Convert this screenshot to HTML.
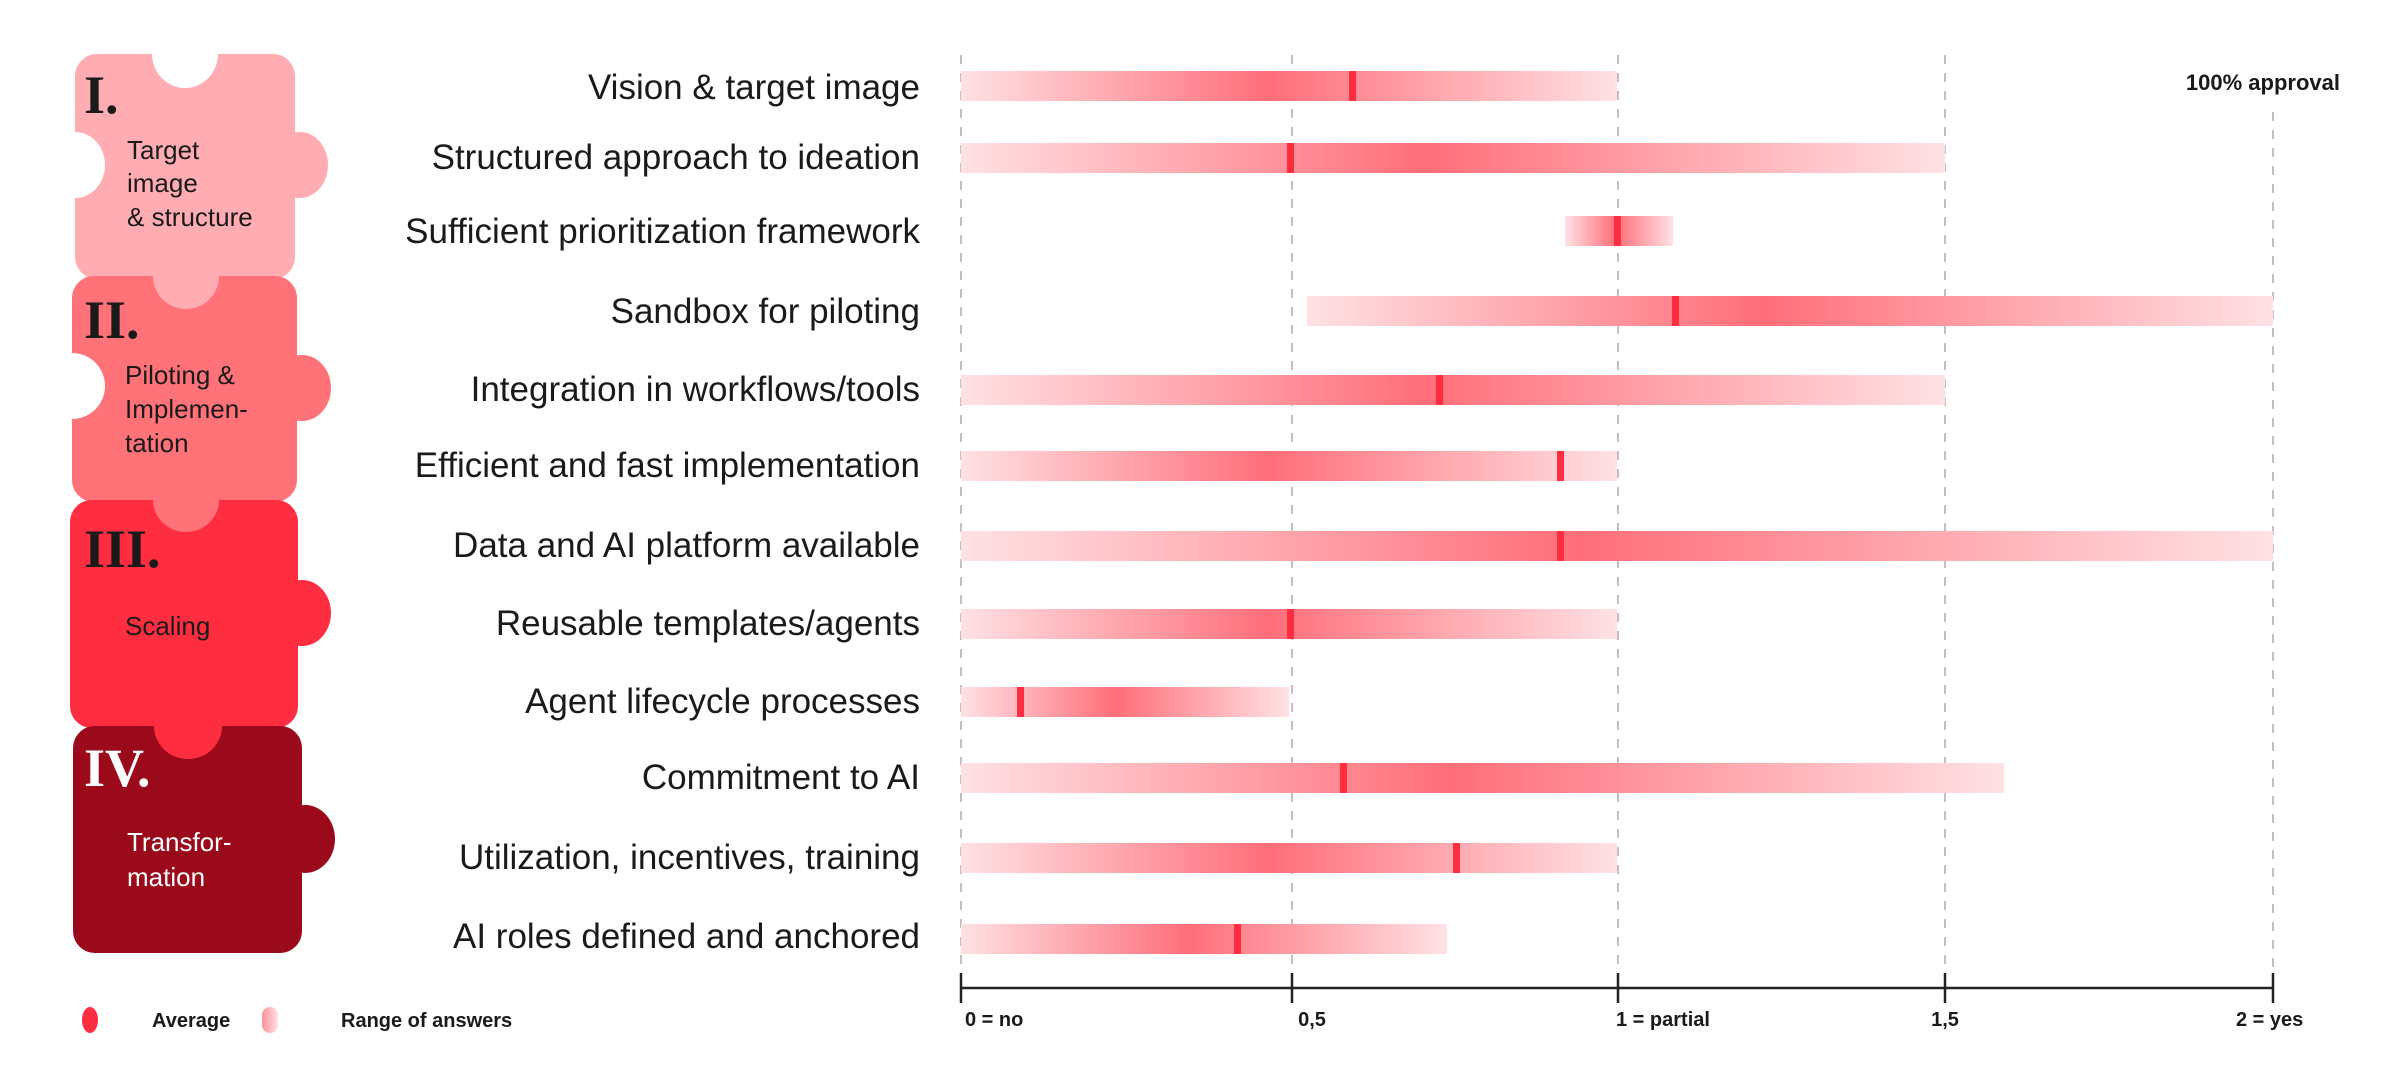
<!DOCTYPE html>
<html><head><meta charset="utf-8"><style>
html,body{margin:0;padding:0;background:#fff;}
svg{display:block;}
.lbl{font-family:"Liberation Sans",sans-serif;font-size:35px;fill:#1a1a1a;text-anchor:end;}
.pt{font-family:"Liberation Sans",sans-serif;font-size:26px;fill:#1a1a1a;}
.rn{font-family:"Liberation Serif",serif;font-size:54px;font-weight:bold;fill:#1a1a1a;}
.ax{font-family:"Liberation Sans",sans-serif;font-size:20px;font-weight:bold;fill:#1a1a1a;}
</style></head><body>
<svg width="2397" height="1080" viewBox="0 0 2397 1080" xmlns="http://www.w3.org/2000/svg">
<defs>
<linearGradient id="g" x1="0" x2="1" y1="0" y2="0">
<stop offset="0" stop-color="#ffe1e4"/><stop offset="0.47" stop-color="#ff6e79"/><stop offset="1" stop-color="#ffe1e4"/>
</linearGradient>
<linearGradient id="gl" x1="0" x2="1"><stop offset="0" stop-color="#ff8f98"/><stop offset="1" stop-color="#ffe1e4"/></linearGradient>
</defs>
<g stroke="#c9bdbd" stroke-width="2" stroke-dasharray="9 9">
<line x1="961" y1="55" x2="961" y2="975"/>
<line x1="1292" y1="55" x2="1292" y2="975"/>
<line x1="1618" y1="55" x2="1618" y2="975"/>
<line x1="1945" y1="55" x2="1945" y2="975"/>
<line x1="2273" y1="112" x2="2273" y2="975"/>
</g>
<text x="2340" y="90" class="ax" text-anchor="end" style="font-size:22px">100% approval</text>
<g>
<rect x="961" y="71" width="656" height="30" fill="url(#g)"/><rect x="1349" y="71" width="7" height="30" fill="#ff2d40"/>
<rect x="961" y="143" width="984" height="30" fill="url(#g)"/><rect x="1287" y="143" width="7" height="30" fill="#ff2d40"/>
<rect x="1565" y="216" width="108" height="30" fill="url(#g)"/><rect x="1614" y="216" width="7" height="30" fill="#ff2d40"/>
<rect x="1307" y="296" width="966" height="30" fill="url(#g)"/><rect x="1672" y="296" width="7" height="30" fill="#ff2d40"/>
<rect x="961" y="375" width="984" height="30" fill="url(#g)"/><rect x="1436" y="375" width="7" height="30" fill="#ff2d40"/>
<rect x="961" y="451" width="656" height="30" fill="url(#g)"/><rect x="1557" y="451" width="7" height="30" fill="#ff2d40"/>
<rect x="961" y="531" width="1312" height="30" fill="url(#g)"/><rect x="1557" y="531" width="7" height="30" fill="#ff2d40"/>
<rect x="961" y="609" width="656" height="30" fill="url(#g)"/><rect x="1287" y="609" width="7" height="30" fill="#ff2d40"/>
<rect x="961" y="687" width="328" height="30" fill="url(#g)"/><rect x="1017" y="687" width="7" height="30" fill="#ff2d40"/>
<rect x="961" y="763" width="1043" height="30" fill="url(#g)"/><rect x="1340" y="763" width="7" height="30" fill="#ff2d40"/>
<rect x="961" y="843" width="656" height="30" fill="url(#g)"/><rect x="1453" y="843" width="7" height="30" fill="#ff2d40"/>
<rect x="961" y="924" width="486" height="30" fill="url(#g)"/><rect x="1234" y="924" width="7" height="30" fill="#ff2d40"/>
</g>
<g class="lbl">
<text x="920" y="99">Vision &amp; target image</text>
<text x="920" y="169">Structured approach to ideation</text>
<text x="920" y="243">Sufficient prioritization framework</text>
<text x="920" y="323">Sandbox for piloting</text>
<text x="920" y="401">Integration in workflows/tools</text>
<text x="920" y="477">Efficient and fast implementation</text>
<text x="920" y="557">Data and AI platform available</text>
<text x="920" y="635">Reusable templates/agents</text>
<text x="920" y="713">Agent lifecycle processes</text>
<text x="920" y="789">Commitment to AI</text>
<text x="920" y="869">Utilization, incentives, training</text>
<text x="920" y="948">AI roles defined and anchored</text>
</g>
<g stroke="#222" stroke-width="2.5">
<line x1="961" y1="988" x2="2273" y2="988"/>
<line x1="961" y1="973" x2="961" y2="1003"/>
<line x1="1292" y1="973" x2="1292" y2="1003"/>
<line x1="1618" y1="973" x2="1618" y2="1003"/>
<line x1="1945" y1="973" x2="1945" y2="1003"/>
<line x1="2273" y1="973" x2="2273" y2="1003"/>
</g>
<g class="ax">
<text x="965" y="1026">0 = no</text>
<text x="1312" y="1026" text-anchor="middle">0,5</text>
<text x="1616" y="1026">1 = partial</text>
<text x="1945" y="1026" text-anchor="middle">1,5</text>
<text x="2236" y="1026">2 = yes</text>
</g>
<rect x="75" y="54" width="220" height="225" rx="22" fill="#ffadb3"/>
<ellipse cx="185" cy="54" rx="33" ry="34" fill="#fff"/>
<rect x="145" y="40" width="80" height="14" fill="#fff"/>
<ellipse cx="300" cy="165" rx="28" ry="33" fill="#ffadb3"/>
<ellipse cx="75" cy="165" rx="30" ry="33" fill="#fff"/>
<rect x="72" y="276" width="225" height="226" rx="22" fill="#ff7278"/>
<ellipse cx="186" cy="276" rx="33" ry="33" fill="#ffadb3"/>
<ellipse cx="302" cy="388" rx="29" ry="33" fill="#ff7278"/>
<ellipse cx="72" cy="386" rx="33" ry="33" fill="#fff"/>
<rect x="70" y="500" width="228" height="228" rx="22" fill="#ff2d40"/>
<ellipse cx="186" cy="500" rx="33" ry="32" fill="#ff7278"/>
<ellipse cx="302" cy="613" rx="29" ry="33" fill="#ff2d40"/>
<rect x="73" y="726" width="229" height="227" rx="22" fill="#9b0a1a"/>
<ellipse cx="188" cy="726" rx="34" ry="33" fill="#ff2d40"/>
<ellipse cx="305" cy="839" rx="30" ry="34" fill="#9b0a1a"/>
<text x="84" y="113" class="rn">I.</text>
<text x="84" y="338" class="rn">II.</text>
<text x="84" y="567" class="rn">III.</text>
<text x="84" y="786" class="rn" style="fill:#fff">IV.</text>
<g class="pt">
<text x="127" y="159">Target</text>
<text x="127" y="192">image</text>
<text x="127" y="226">&amp; structure</text>
<text x="125" y="384">Piloting &amp;</text>
<text x="125" y="418">Implemen-</text>
<text x="125" y="452">tation</text>
<text x="125" y="635">Scaling</text>
<text x="127" y="851" style="fill:#fff">Transfor-</text>
<text x="127" y="886" style="fill:#fff">mation</text>
</g>
<ellipse cx="90" cy="1020" rx="8" ry="13" fill="#ff2d40"/>
<text x="152" y="1027" class="ax">Average</text>
<rect x="262" y="1007" width="16" height="26" rx="8" fill="url(#gl)"/>
<text x="341" y="1027" class="ax">Range of answers</text>
</svg>
</body></html>
